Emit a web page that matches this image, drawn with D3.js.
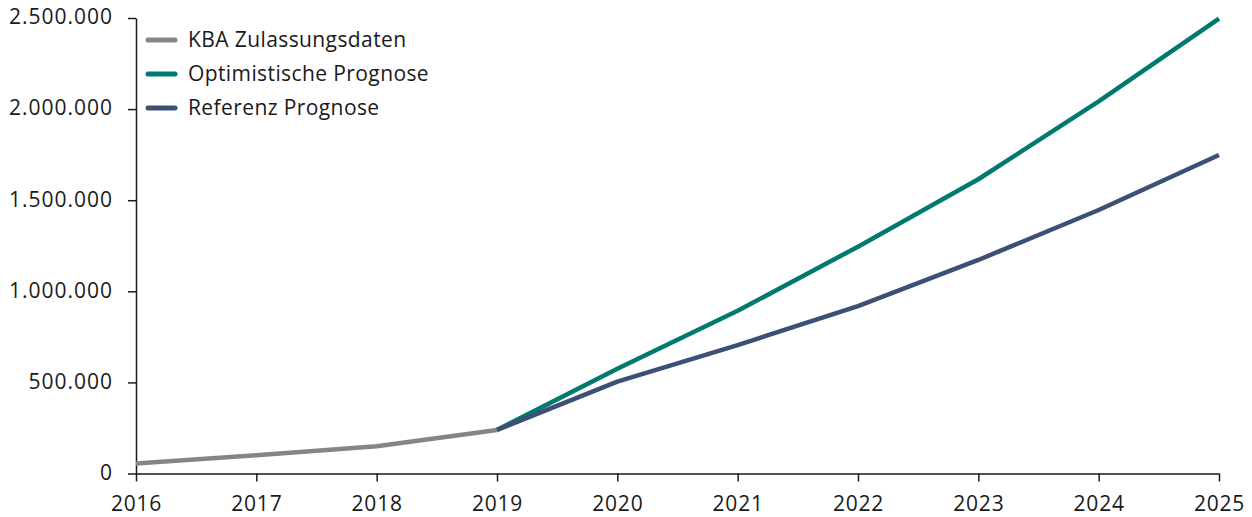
<!DOCTYPE html>
<html>
<head>
<meta charset="utf-8">
<script src="https://cdn.jsdelivr.net/npm/d3@7"></script>
<style>
  body { margin: 0; background: #fff; }
  text { font-family: "Open Sans", sans-serif; fill: #1a1a1a; }
</style>
</head>
<body>
<svg id="chart" width="1252" height="517"></svg>
<script>
var years = [2016, 2017, 2018, 2019, 2020, 2021, 2022, 2023, 2024, 2025];

var kbaYears = [2016, 2017, 2018, 2019];
var kbaValues = [55000, 100000, 150000, 239000];

var forecastYears = [2019, 2020, 2021, 2022, 2023, 2024, 2025];
var optimisticValues = [239000, 575000, 893000, 1245000, 1615000, 2042000, 2497000];
var referenceValues = [239000, 504000, 705000, 919000, 1172000, 1446000, 1748000];

var yTicks = [0, 500000, 1000000, 1500000, 2000000, 2500000];

var seriesNames = ['KBA Zulassungsdaten', 'Optimistische Prognose', 'Referenz Prognose'];
var seriesColors = ['#858585', '#007a6e', '#3b5074'];

var svg = d3.select('#chart');
var margin = { left: 136, right: 33, top: 18, bottom: 43.5 };
var width = 1252 - margin.left - margin.right;
var height = 517 - margin.top - margin.bottom;

var g = svg.append('g')
    .attr('transform', 'translate(' + margin.left + ',' + margin.top + ')');

var x = d3.scaleLinear().domain([2016, 2025]).range([0, width]);
var y = d3.scaleLinear().domain([0, 2500000]).range([height, 0]);

var fmt = d3.formatLocale({ decimal: ',', thousands: '.', grouping: [3], currency: ['', '€'] }).format(',d');

var xAxis = g.append('g')
    .attr('transform', 'translate(0,' + height + ')')
    .call(d3.axisBottom(x).tickValues(years).tickFormat(d3.format('d')).tickSize(8).tickSizeOuter(0));
xAxis.selectAll('text')
    .attr('y', 30)
    .attr('dy', '0.36em')
    .style('font-size', '21px')
    .style('letter-spacing', '0.8px');

var yAxis = g.append('g')
    .call(d3.axisLeft(y).tickValues(yTicks).tickFormat(fmt).tickSize(8).tickSizeOuter(0));
yAxis.selectAll('text')
    .attr('x', -23)
    .attr('dy', '0.28em')
    .style('font-size', '21px')
    .style('letter-spacing', '1px');

svg.selectAll('.domain, .tick line').attr('stroke', '#1a1a1a').attr('stroke-width', 1.5);

var line = d3.line()
    .x(function (d) { return x(d[0]); })
    .y(function (d) { return y(d[1]); });

var series = [
    d3.zip(kbaYears, kbaValues),
    d3.zip(forecastYears, optimisticValues),
    d3.zip(forecastYears, referenceValues)
];

g.selectAll('.series')
    .data(series)
    .enter()
    .append('path')
    .attr('class', 'series')
    .attr('d', line)
    .attr('fill', 'none')
    .attr('stroke', function (d, i) { return seriesColors[i]; })
    .attr('stroke-width', 4.5)
    .attr('stroke-linejoin', 'round');

var legend = svg.append('g').attr('transform', 'translate(148,40)');
var item = legend.selectAll('g')
    .data(seriesNames)
    .enter()
    .append('g')
    .attr('transform', function (d, i) { return 'translate(0,' + (i * 34) + ')'; });

item.append('line')
    .attr('x1', 0).attr('x2', 27)
    .attr('stroke', function (d, i) { return seriesColors[i]; })
    .attr('stroke-width', 5)
    .attr('stroke-linecap', 'round');

item.append('text')
    .attr('x', 40)
    .attr('dy', '0.35em')
    .style('font-size', '21px')
    .style('letter-spacing', '0.4px')
    .text(function (d) { return d; });
</script>
</body>
</html>
